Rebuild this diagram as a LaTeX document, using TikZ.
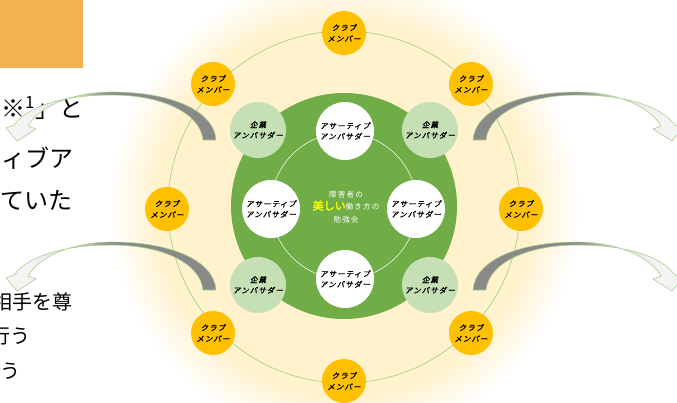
\documentclass[tikz,border=0pt]{standalone}
\usepackage{fontspec}
\newfontfamily\jp{Noto Sans CJK JP}
\newfontfamily\jpsp[LetterSpace=16]{Noto Sans CJK JP}
\newfontfamily\jpbold[FakeBold=2]{Noto Sans CJK JP}
\newfontfamily\jpkana[FakeSlant=0.2,FakeBold=1.6,LetterSpace=14]{Noto Sans CJK JP}
\usepackage{xcolor}

\definecolor{cream}{RGB}{255,242,204}
\definecolor{ringgreen}{RGB}{169,209,142}
\definecolor{clubgold}{RGB}{255,192,0}
\definecolor{studygreen}{RGB}{112,173,71}
\definecolor{corpgreen}{RGB}{197,224,180}
\definecolor{boxorange}{RGB}{244,179,80}
\definecolor{arrowgray}{RGB}{137,137,137}
\definecolor{arrowlight}{RGB}{244,244,244}
\definecolor{arrowmid}{RGB}{226,228,224}
\definecolor{titleyellow}{RGB}{255,255,0}
\definecolor{creamfade}{RGB}{255,247,226}

% in tikz the middle 50bp of a shading is stretched over the path
\pgfdeclareradialshading{glow}{\pgfpoint{0bp}{0bp}}{color(0bp)=(cream); color(19.5bp)=(cream); color(21.5bp)=(creamfade); color(24.5bp)=(white); color(50bp)=(white)}
\pgfdeclarehorizontalshading{fadeL}{100bp}{color(0bp)=(arrowlight); color(30bp)=(arrowlight); color(40bp)=(arrowmid); color(50bp)=(arrowgray); color(100bp)=(arrowgray)}
\pgfdeclarehorizontalshading{fadeR}{100bp}{color(0bp)=(arrowgray); color(50bp)=(arrowgray); color(60bp)=(arrowmid); color(70bp)=(arrowlight); color(100bp)=(arrowlight)}

\begin{document}
\begin{tikzpicture}[x=1pt,y=-1pt]
\tikzstyle{club} =[circle, fill=clubgold, minimum size=44pt, inner sep=0pt, align=center, font=\jpkana\fontsize{7.5}{11}\selectfont]
\tikzstyle{assertive} =[circle, fill=white, minimum size=58pt, inner sep=0pt, align=center, font=\jpkana\fontsize{7.5}{10.5}\selectfont]
\tikzstyle{corporate} =[circle, fill=corpgreen, minimum size=56pt, inner sep=0pt, align=center, font=\jpkana\fontsize{7.5}{10.5}\selectfont]
\tikzstyle{bigtext} =[anchor=west, inner sep=0pt, font=\jp\fontsize{24}{28}\selectfont]
\tikzstyle{smalltext} =[anchor=west, inner sep=0pt, font=\jp\fontsize{20}{24}\selectfont]
\tikzset{bentarrow/.style={draw=ringgreen, line width=0.6pt, shading=#1}}

\useasboundingbox (0,0) rectangle (677,402);

% glow behind the circles
\shade[shading=glow] (344,207) circle[radius=240];
\fill[boxorange] (0,0) rectangle (83,68);

% text on the left
\node[bigtext](l1) at (1,108){※\textsuperscript{1}」と};
\node[bigtext](l2) at (1,158){ィブア};
\node[bigtext](l3) at (0,200){ていた};
\node[smalltext](l4) at (-8,302){相手を尊};
\node[smalltext](l5) at (-10,336){行う};
\node[smalltext](l6) at (0,371){う};

% club members
\draw[ringgreen, line width=0.7pt] (344,207) circle[radius=176];
\node[club](m1) at (344,33){クラブ\\メンバー};
\node[club](m2) at (471,84){クラブ\\メンバー};
\node[club](m3) at (521,209){クラブ\\メンバー};
\node[club](m4) at (471,333){クラブ\\メンバー};
\node[club](m5) at (344,381){クラブ\\メンバー};
\node[club](m6) at (213,333){クラブ\\メンバー};
\node[club](m7) at (167,209){クラブ\\メンバー};
\node[club](m8) at (213,84){クラブ\\メンバー};

% study group
\fill[studygreen] (344,206) circle[radius=113];
\draw[white, line width=0.5pt] (344,206) circle[radius=73];
\node[assertive](a1) at (345,131){アサーティブ\\アンバサダー};
\node[assertive](a2) at (416,209){アサーティブ\\アンバサダー};
\node[assertive](a3) at (345,279){アサーティブ\\アンバサダー};
\node[assertive](a4) at (271,209){アサーティブ\\アンバサダー};
\node[corporate](c1) at (258,130){企業\\アンバサダー};
\node[corporate](c2) at (430,130){企業\\アンバサダー};
\node[corporate](c3) at (430,285){企業\\アンバサダー};
\node[corporate](c4) at (258,285){企業\\アンバサダー};
\node[text=white, align=center, font=\jpsp\fontsize{7.5}{12.5}\selectfont](title) at (346,207)
  {障害者の\\{\jpbold\fontsize{11}{12.5}\selectfont\color{titleyellow}美しい}働き方の\\勉強会};

% bent arrows
\foreach \dy in {0,150}{
  \foreach \sh/\sx/\fade in {0/1/fadeL, 689/-1/fadeR}{
    \begin{scope}[shift={(\sh,\dy)}, xscale=\sx]
    \shade[bentarrow=\fade] (216,140) .. controls (214,110) and (170,92) .. (112,92)
      .. controls (70,92) and (38,108) .. (28,126) -- (36,129) -- (17,141) -- (6,128) -- (14,125)
      .. controls (30,104) and (68,95) .. (112,95)
      .. controls (160,95) and (200,112) .. (203,140) -- cycle;
    \end{scope}
  }
}
\end{tikzpicture}
\end{document}
